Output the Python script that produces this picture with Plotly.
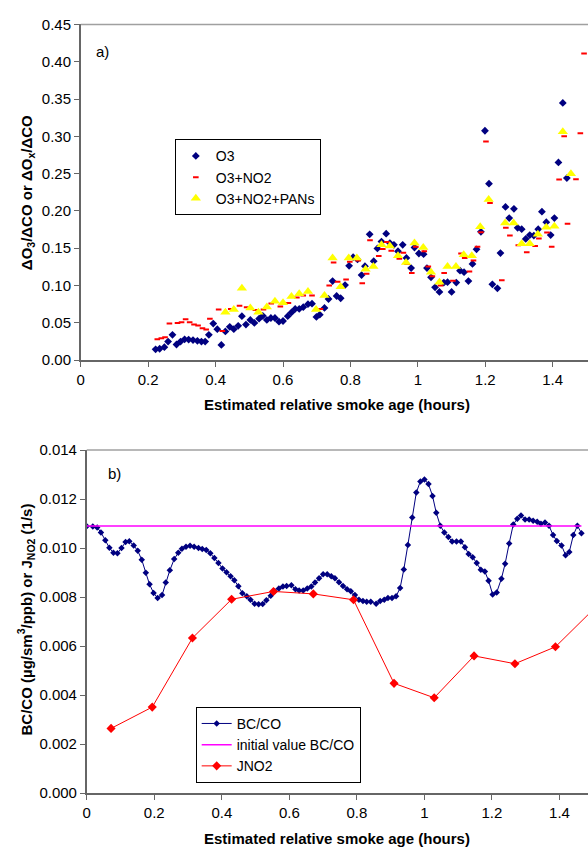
import plotly.graph_objects as go

# ---- panel a) : ozone enhancement ratios ----
o3_x = [0.222, 0.234, 0.248, 0.259, 0.272, 0.284, 0.296, 0.308, 0.320, 0.333, 0.346, 0.358, 0.369,
        0.380, 0.393, 0.405, 0.417, 0.429, 0.442, 0.454, 0.467, 0.478, 0.490, 0.503, 0.515, 0.529,
        0.540, 0.552, 0.564, 0.576, 0.588, 0.600, 0.614, 0.625, 0.636, 0.648, 0.660, 0.674, 0.686,
        0.699, 0.709, 0.723, 0.735, 0.747, 0.759, 0.771, 0.784, 0.796, 0.808, 0.821, 0.833, 0.843,
        0.857, 0.869, 0.880, 0.892, 0.906, 0.917, 0.929, 0.941, 0.955, 0.966, 0.980, 0.990, 1.003,
        1.017, 1.027, 1.039, 1.051, 1.064, 1.077, 1.088, 1.100, 1.114, 1.125, 1.137, 1.150, 1.162,
        1.174, 1.187, 1.199, 1.211, 1.221, 1.236, 1.245, 1.260, 1.271, 1.285, 1.296, 1.308, 1.320,
        1.332, 1.344, 1.357, 1.368, 1.381, 1.394, 1.405, 1.417, 1.430, 1.442]
o3_y = [0.0145, 0.0153, 0.0175, 0.025, 0.034, 0.021, 0.025, 0.028, 0.0276, 0.027, 0.026, 0.025, 0.025,
        0.034, 0.049, 0.0415, 0.0205, 0.0385, 0.0447, 0.0415, 0.046, 0.059, 0.0477, 0.054, 0.050, 0.0556,
        0.0595, 0.054, 0.0565, 0.0565, 0.0516, 0.0525, 0.059, 0.064, 0.0687, 0.0687, 0.071, 0.075, 0.0757,
        0.058, 0.061, 0.070, 0.082, 0.106, 0.086, 0.083, 0.1007, 0.1265, 0.138, 0.135, 0.114, 0.126,
        0.1686, 0.1327, 0.1498, 0.159, 0.1695, 0.157, 0.1546, 0.146, 0.1546, 0.137, 0.1235, 0.151, 0.143,
        0.142, 0.1235, 0.111, 0.0976, 0.0915, 0.104, 0.1046, 0.0915, 0.104, 0.120, 0.118, 0.106, 0.129,
        0.1485, 0.172, 0.3075, 0.2365, 0.1016, 0.0963, 0.1436, 0.2054, 0.1905, 0.2028, 0.1774, 0.1756, 0.1625,
        0.1677, 0.167, 0.1756, 0.199, 0.185, 0.1677, 0.1905, 0.265, 0.3447, 0.244]

no2_x = [0.227, 0.239, 0.250, 0.263, 0.287, 0.299, 0.311, 0.323, 0.336, 0.348, 0.361, 0.372, 0.383,
         0.409, 0.420, 0.445, 0.471, 0.492, 0.518, 0.542, 0.565, 0.592, 0.616, 0.641, 0.660, 0.686,
         0.711, 0.737, 0.750, 0.762, 0.787, 0.798, 0.823, 0.835, 0.848, 0.858, 0.884, 0.896, 0.908,
         0.921, 0.945, 0.957, 0.968, 0.982, 0.994, 1.019, 1.031, 1.043, 1.067, 1.078, 1.104, 1.128,
         1.139, 1.153, 1.165, 1.177, 1.187, 1.202, 1.214, 1.249, 1.261, 1.273, 1.298, 1.323, 1.348,
         1.359, 1.383, 1.397, 1.419, 1.434, 1.444, 1.469, 1.482, 1.493]
no2_y = [0.028, 0.0293, 0.0306, 0.049, 0.050, 0.0507, 0.0547, 0.0507, 0.0477, 0.0464, 0.0428, 0.041, 0.0556,
         0.0678, 0.039, 0.0687, 0.073, 0.071, 0.0674, 0.068, 0.076, 0.072, 0.0766, 0.084, 0.0867, 0.0867,
         0.0687, 0.100, 0.131, 0.105, 0.108, 0.132, 0.1335, 0.103, 0.116, 0.1607, 0.1397, 0.149, 0.1585,
         0.1467, 0.136, 0.144, 0.129, 0.117, 0.152, 0.146, 0.1257, 0.1125, 0.100, 0.117, 0.1064, 0.143,
         0.137, 0.119, 0.1335, 0.152, 0.1716, 0.293, 0.2106, 0.107, 0.1774, 0.167, 0.154, 0.1445, 0.153,
         0.163, 0.171, 0.152, 0.242, 0.300, 0.183, 0.2425, 0.304, 0.411]

pan_x = [0.429, 0.454, 0.478, 0.503, 0.527, 0.552, 0.576, 0.600, 0.625, 0.648, 0.674, 0.698, 0.723,
         0.747, 0.771, 0.795, 0.819, 0.845, 0.868, 0.892, 0.917, 0.941, 0.965, 0.990, 1.016, 1.039,
         1.064, 1.088, 1.113, 1.136, 1.160, 1.185, 1.210, 1.259, 1.284, 1.308, 1.332, 1.356, 1.381,
         1.405, 1.430, 1.454]
pan_y = [0.0644, 0.068, 0.0963, 0.070, 0.0644, 0.0714, 0.079, 0.077, 0.0854, 0.0889, 0.092, 0.068, 0.0867,
         0.137, 0.0985, 0.137, 0.137, 0.1217, 0.1257, 0.1546, 0.153, 0.140, 0.131, 0.157, 0.151, 0.118,
         0.1046, 0.1256, 0.1256, 0.1414, 0.140, 0.1787, 0.2155, 0.184, 0.184, 0.156, 0.156, 0.1686, 0.178,
         0.1795, 0.306, 0.2497]

# ---- panel b) : BC/CO and J(NO2) ----
bc_x = [0.000, 0.018, 0.031, 0.042, 0.055, 0.067, 0.079, 0.091, 0.103, 0.115, 0.126, 0.139, 0.151,
        0.163, 0.175, 0.186, 0.198, 0.210, 0.223, 0.234, 0.246, 0.259, 0.271, 0.282, 0.294, 0.306,
        0.318, 0.331, 0.342, 0.354, 0.366, 0.378, 0.390, 0.402, 0.414, 0.426, 0.437, 0.449, 0.461,
        0.474, 0.485, 0.497, 0.509, 0.521, 0.532, 0.545, 0.557, 0.569, 0.581, 0.592, 0.606, 0.618,
        0.629, 0.641, 0.653, 0.665, 0.676, 0.688, 0.700, 0.712, 0.724, 0.735, 0.747, 0.759, 0.771,
        0.782, 0.794, 0.806, 0.818, 0.829, 0.841, 0.857, 0.869, 0.881, 0.892, 0.904, 0.916, 0.928,
        0.939, 0.951, 0.964, 0.976, 0.988, 1.000, 1.012, 1.024, 1.035, 1.047, 1.059, 1.071, 1.082,
        1.095, 1.108, 1.120, 1.131, 1.143, 1.155, 1.167, 1.179, 1.190, 1.202, 1.214, 1.228, 1.239,
        1.251, 1.263, 1.275, 1.286, 1.298, 1.310, 1.322, 1.334, 1.345, 1.357, 1.369, 1.381, 1.392,
        1.406, 1.418, 1.429, 1.441, 1.453, 1.465]
bc_y = [0.01089, 0.01088, 0.01084, 0.01064, 0.01032, 0.01001, 0.00981, 0.00979, 0.01000, 0.01025,
        0.01028, 0.01011, 0.00989, 0.00952, 0.00899, 0.00852, 0.00817, 0.00796, 0.00808, 0.00859,
        0.00909, 0.00955, 0.00981, 0.00997, 0.01005, 0.01009, 0.01005, 0.01000, 0.00996, 0.00992,
        0.00979, 0.00960, 0.00939, 0.00917, 0.00901, 0.00885, 0.00869, 0.00844, 0.00816, 0.00803,
        0.00789, 0.00773, 0.00771, 0.00772, 0.00787, 0.00805, 0.00824, 0.00835, 0.00843, 0.00845,
        0.00848, 0.00832, 0.00827, 0.00827, 0.00835, 0.00843, 0.00859, 0.00877, 0.00893, 0.00893,
        0.00885, 0.00877, 0.00861, 0.00845, 0.00832, 0.00824, 0.00808, 0.00789, 0.00784, 0.00781,
        0.00781, 0.00773, 0.00784, 0.00789, 0.00796, 0.00796, 0.00803, 0.00837, 0.00913, 0.01013,
        0.01125, 0.01227, 0.01272, 0.01280, 0.01261, 0.01213, 0.01144, 0.01091, 0.01064, 0.01045,
        0.01027, 0.01027, 0.01027, 0.01003, 0.00976, 0.00963, 0.00939, 0.00912, 0.00904, 0.00867,
        0.00811, 0.00819, 0.00875, 0.00936, 0.01019, 0.01096, 0.01120, 0.01133, 0.01117, 0.01117,
        0.01112, 0.01107, 0.01099, 0.01104, 0.01091, 0.01053, 0.01029, 0.01011, 0.00971, 0.00984,
        0.01053, 0.01091, 0.01061]

init_x = [0.000, 1.465]
init_y = [0.0109, 0.0109]

jno2_x = [0.072, 0.194, 0.313, 0.429, 0.553, 0.671, 0.790, 0.910, 1.029, 1.147, 1.268, 1.388, 1.508]
jno2_y = [0.00264, 0.00351, 0.00633, 0.00791, 0.00823, 0.00813, 0.00789, 0.00448, 0.00389, 0.0056,
          0.00528, 0.00597, 0.0076]

FONT = "Liberation Sans, Arial, sans-serif"
W, H = 588, 856


def px(x):
    return x / W


def py(y):
    return 1 - y / H


fig = go.Figure()

# panel a
fig.add_trace(go.Scatter(
    x=o3_x, y=o3_y, mode="markers", name="O3", xaxis="x", yaxis="y", legend="legend",
    marker=dict(symbol="diamond", size=6, color="#000080"),
))
fig.add_trace(go.Scatter(
    x=no2_x, y=no2_y, mode="markers", name="O3+NO2", xaxis="x", yaxis="y", legend="legend",
    marker=dict(symbol="line-ew", size=4, line=dict(color="#ff0000", width=2)),
))
fig.add_trace(go.Scatter(
    x=pan_x, y=pan_y, mode="markers", name="O3+NO2+PANs", xaxis="x", yaxis="y", legend="legend",
    marker=dict(symbol="triangle-up", size=9, color="#ffff00"),
))

# panel b
fig.add_trace(go.Scatter(
    x=bc_x, y=bc_y, mode="lines+markers", name="BC/CO", xaxis="x2", yaxis="y2", legend="legend2",
    line=dict(color="#000080", width=1), marker=dict(symbol="diamond", size=5, color="#000080"),
))
fig.add_trace(go.Scatter(
    x=init_x, y=init_y, mode="lines", name="initial value BC/CO", xaxis="x2", yaxis="y2",
    legend="legend2", line=dict(color="#ff00ff", width=1.5),
))
fig.add_trace(go.Scatter(
    x=jno2_x, y=jno2_y, mode="lines+markers", name="JNO2", xaxis="x2", yaxis="y2", legend="legend2",
    line=dict(color="#ff0000", width=1), marker=dict(symbol="diamond", size=7, color="#ff0000"),
))

axis_common = dict(
    showgrid=False, zeroline=False, showline=True, linecolor="#666666", linewidth=1.5,
    ticks="outside", ticklen=5, tickcolor="#666666",
    tickfont=dict(family=FONT, size=15, color="black"),
)

legend_common = dict(
    xanchor="left", yanchor="top", bordercolor="black", borderwidth=1, bgcolor="white",
    font=dict(family=FONT, size=14), tracegroupgap=0, itemwidth=30,
)

fig.update_layout(
    width=W, height=H,
    margin=dict(l=0, r=0, t=0, b=0),
    paper_bgcolor="white", plot_bgcolor="white",
    font=dict(family=FONT, size=15, color="black"),
    xaxis=dict(axis_common, domain=[px(77.3), 1], range=[0, (W - 77.3) / 339.4],
               dtick=0.2, anchor="y"),
    yaxis=dict(axis_common, domain=[py(358.3), py(15.7)], range=[0, 0.45],
               dtick=0.05, tickformat=".2f", anchor="x"),
    xaxis2=dict(axis_common, domain=[px(83.3), 1], range=[0, (W - 83.3) / 340],
                dtick=0.2, anchor="y2"),
    yaxis2=dict(axis_common, domain=[py(800), py(450)], range=[0, 0.014],
                dtick=0.002, tickformat=".3f", anchor="x2"),
    legend=dict(legend_common, x=px(172), y=py(133)),
    legend2=dict(legend_common, x=px(193), y=py(712)),
    showlegend=True,
)

# top frame line of each panel
for xr, yr in (("x domain", "y domain"), ("x2 domain", "y2 domain")):
    fig.add_shape(type="line", xref=xr, yref=yr, x0=0, x1=1, y0=1, y1=1,
                  line=dict(color="#a0a0a0", width=1.5))


def label(text, x, y, bold=True, angle=0):
    fig.add_annotation(
        text=f"<b>{text}</b>" if bold else text, textangle=angle,
        xref="paper", yref="paper", x=px(x), y=py(y), xanchor="center", yanchor="middle",
        showarrow=False, font=dict(family=FONT, size=15, color="black"),
    )


label("ΔO<sub>3</sub>/ΔCO or ΔO<sub>x</sub>/ΔCO", 23, 187, angle=-90)
label("BC/CO (µg/sm<sup>3</sup>/ppb) or J<sub>NO2</sub> (1/s)", 22, 623, angle=-90)
label("Estimated relative smoke age (hours)", 335, 404)
label("Estimated relative smoke age (hours)", 335, 846)
label("a)", 99, 43, bold=False)
label("b)", 111, 474, bold=False)

# drop the default 8px page margin so the 588x856 figure fills the window exactly
fig.write_html(
    "out.html",
    config={"displayModeBar": False},
    post_script="document.body.style.margin = '0';",
)
